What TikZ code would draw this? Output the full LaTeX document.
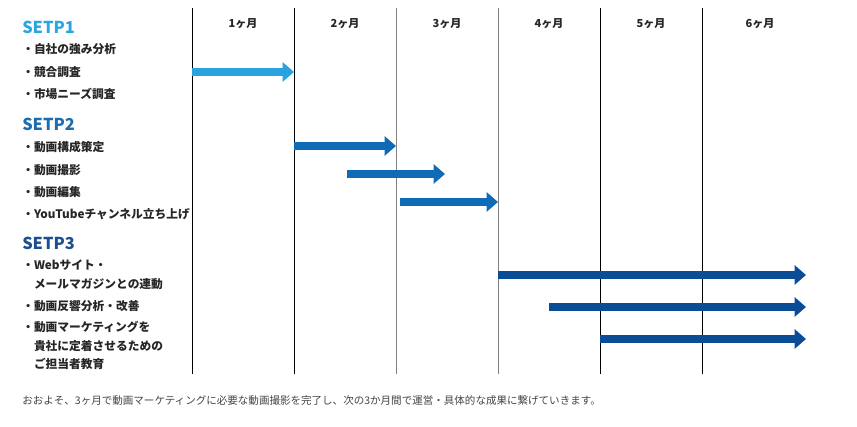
\documentclass[tikz,border=0pt]{standalone}
\usepackage{fontspec}
\setmainfont{Noto Sans CJK JP}
\usetikzlibrary{arrows.meta}
\definecolor{cone}{HTML}{29A3DF}
\definecolor{ctwo}{HTML}{0F6BB5}
\definecolor{cthree}{HTML}{0B4C97}
\definecolor{hone}{HTML}{2CA6E0}
\definecolor{htwo}{HTML}{1B6DB3}
\definecolor{hthree}{HTML}{1D4F8E}
\definecolor{note}{HTML}{444444}
\tikzset{
  heading/.style={anchor=west, inner sep=0pt, font=\fontsize{12.3}{15}\selectfont\bfseries},
  item/.style={anchor=west, inner sep=0pt, align=left, font=\fontsize{8.8}{14.2}\selectfont\bfseries, text=black!85},
  month/.style={inner sep=0pt, font=\fontsize{8.3}{10}\selectfont\bfseries, text=black!85},
  grid/.style={line width=0.75pt, draw=black},
  gridgray/.style={line width=0.75pt, draw=black!50},
  bar/.style={line width=6.4pt, -{Triangle[length=8.5pt,width=14.2pt]}},
  notetext/.style={anchor=west, inner sep=0pt, font=\fontsize{7.9}{9}\selectfont, text=note}
}
\begin{document}
\begin{tikzpicture}[x=0.75pt,y=-0.75pt]
\useasboundingbox (0,0) rectangle (857,427);
% grid lines
\foreach \n/\x in {a/192,b/294,c/396,d/498,e/600,f/702}{
  \coordinate (t\n) at (\x,8);
  \coordinate (b\n) at (\x,374);
}
\draw[grid] (ta) -- (ba);
\draw[grid] (tb) -- (bb);
\draw[gridgray] (tc) -- (bc);
\draw[gridgray] (td) -- (bd);
\draw[grid] (te) -- (be);
\draw[grid] (tf) -- (bf);
% month labels
\node[month] (m1) at (243,24) {1ヶ月};
\node[month] (m2) at (345,24) {2ヶ月};
\node[month] (m3) at (447,24) {3ヶ月};
\node[month] (m4) at (549,24) {4ヶ月};
\node[month] (m5) at (651,24) {5ヶ月};
\node[month] (m6) at (760,24) {6ヶ月};
% left labels
\node[heading, text=hone] (h1) at (22,27) {SETP1};
\node[item] (i11) at (22,49) {・自社の強み分析};
\node[item] (i12) at (22,72) {・競合調査};
\node[item] (i13) at (22,94) {・市場ニーズ調査};
\node[heading, text=htwo] (h2) at (22,124) {SETP2};
\node[item] (i21) at (22,147) {・動画構成策定};
\node[item] (i22) at (22,170) {・動画撮影};
\node[item] (i23) at (22,192) {・動画編集};
\node[item] (i24) at (22,214) {・YouTubeチャンネル立ち上げ};
\node[heading, text=hthree] (h3) at (22,243) {SETP3};
\node[item] (i31) at (22,275) {・Webサイト・\\　メールマガジンとの連動};
\node[item] (i32) at (22,306) {・動画反響分析・改善};
\node[item] (i33) at (22,345.5) {・動画マーケティングを\\　貴社に定着させるための\\　ご担当者教育};
% arrows
\coordinate (s1) at (192,72);  \coordinate (e1) at (294,72);
\coordinate (s2) at (294,146); \coordinate (e2) at (396,146);
\coordinate (s3) at (347,174); \coordinate (e3) at (445,174);
\coordinate (s4) at (400,202); \coordinate (e4) at (498,202);
\coordinate (s5) at (498,275); \coordinate (e5) at (806,275);
\coordinate (s6) at (549,307); \coordinate (e6) at (806,307);
\coordinate (s7) at (600,339); \coordinate (e7) at (806,339);
\draw[bar, cone] (s1) -- (e1);
\draw[bar, ctwo] (s2) -- (e2);
\draw[bar, ctwo] (s3) -- (e3);
\draw[bar, ctwo] (s4) -- (e4);
\draw[bar, cthree] (s5) -- (e5);
\draw[bar, cthree] (s6) -- (e6);
\draw[bar, cthree] (s7) -- (e7);
% note
\node[notetext] (nt) at (22,401) {おおよそ、3ヶ月で動画マーケティングに必要な動画撮影を完了し、次の3か月間で運営・具体的な成果に繋げていきます。};
\end{tikzpicture}
\end{document}
